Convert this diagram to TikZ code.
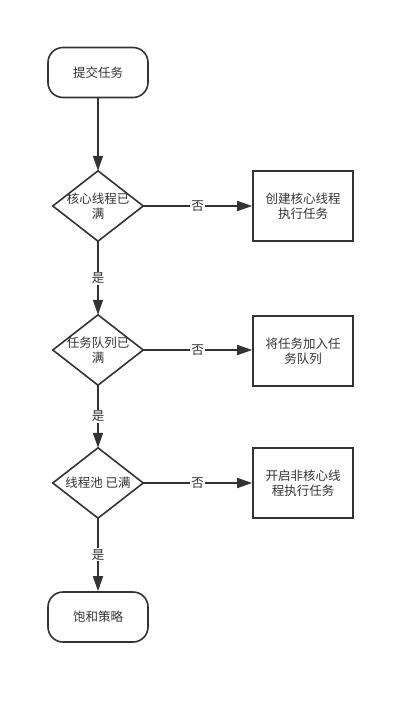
\documentclass[tikz,border=0pt]{standalone}
\usepackage{fontspec}
\setmainfont{Noto Sans CJK SC}
\usetikzlibrary{arrows.meta}
\definecolor{linegray}{HTML}{333333}
\begin{document}
\begin{tikzpicture}[x=1pt,y=-1pt,
        every node/.style={font=\fontsize{12.5}{15}\selectfont, text=linegray},
        terminal/.style={draw=linegray, line width=1.6pt, rounded corners=15pt, minimum width=100pt, minimum height=50pt},
        decision/.style={minimum width=90pt, minimum height=70pt, inner sep=0pt, align=center},
        taskbox/.style={draw=linegray, line width=1.6pt, minimum width=100pt, minimum height=70pt, align=center},
        flow/.style={draw=linegray, line width=1.6pt, -{Triangle[length=15pt,width=10pt]}},
        answer/.style={fill=white, inner sep=1pt}]
    \useasboundingbox (0,0) rectangle (415,704);
    % left column
    \node[terminal] (submit) at (98,72.5) {提交任务};
    \node[decision] (corefull) at (98,206) {核心线程已\\满};
    \node[decision] (queuefull) at (98,350) {任务队列已\\满};
    \node[decision] (poolfull) at (98,483) {线程池 已满};
    \node[terminal] (reject) at (98,617) {饱和策略};
    \foreach \d in {corefull,queuefull,poolfull}
        \draw[linegray, line width=1.6pt, line join=miter] (\d.north) -- (\d.east) -- (\d.south) -- (\d.west) -- cycle;
    % right column
    \node[taskbox] (newcore) at (303,206) {创建核心线程\\执行任务};
    \node[taskbox] (enqueue) at (303,351) {将任务加入任\\务队列};
    \node[taskbox] (newworker) at (303,483) {开启非核心线\\程执行任务};
    % connectors
    \draw[flow] (submit) -- (corefull.north);
    \draw[flow] (corefull.south) -- node[answer] {是} (queuefull.north);
    \draw[flow] (queuefull.south) -- node[answer] {是} (poolfull.north);
    \draw[flow] (poolfull.south) -- node[answer] {是} (reject);
    \draw[flow] (corefull.east) -- node[answer] {否} (newcore);
    \draw[flow] (queuefull.east) -- node[answer] {否} (enqueue.west |- queuefull.east);
    \draw[flow] (poolfull.east) -- node[answer] {否} (newworker);
\end{tikzpicture}
\end{document}
